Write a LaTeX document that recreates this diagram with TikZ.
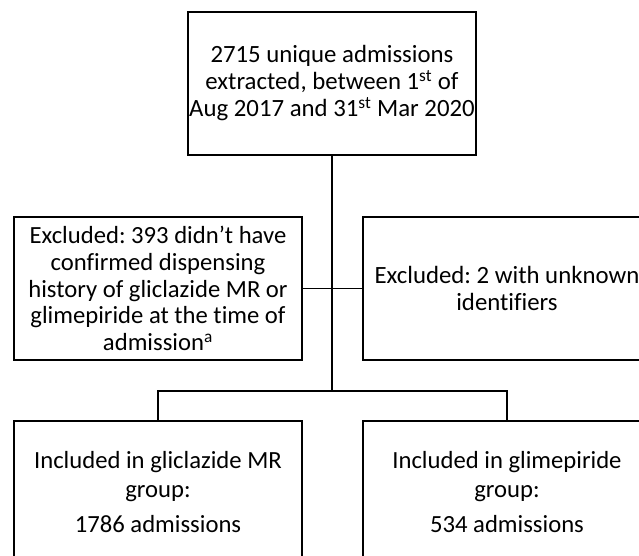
\documentclass[tikz,border=0pt]{standalone}
\usepackage{fontspec}
\setmainfont{Carlito}[Ligatures=NoCommon]
\frenchspacing
\begin{document}
\begin{tikzpicture}[x=0.75pt,y=-0.75pt]
\tikzset{
  box/.style={draw, line width=1.4pt, minimum width=216pt, minimum height=107.25pt,
    inner sep=0pt, align=center, font=\fontsize{18.6}{20.25}\selectfont},
  conn/.style={line width=1.4pt}
}
\useasboundingbox (0,0) rectangle (639,556);
\clip (0,0) rectangle (639,556);
\node[box] (top) at (332,83.5)
  {2715 unique admissions\\extracted, between 1\textsuperscript{st} of\\Aug 2017 and 31\textsuperscript{st} Mar 2020};
\node[box, font=\fontsize{18.5}{20}\selectfont] (exl) at (158,288.5)
  {Excluded: 393 didn’t have\\confirmed dispensing\\history of gliclazide MR or\\glimepiride at the time of\\admission\textsuperscript{a}};
\node[box] (exr) at (507,288.5)
  {Excluded: 2 with unknown\\identifiers};
\node[box, font=\fontsize{18.5}{21.75}\selectfont] (inl) at (158,492.5)
  {Included in gliclazide MR\\group:\\[4.5pt]1786 admissions};
\node[box, font=\fontsize{18.5}{21.75}\selectfont] (inr) at (507,492.5)
  {Included in glimepiride\\group:\\[4.5pt]534 admissions};
\coordinate (split) at (332,391);
\draw[conn] (top.south) -- (split);
\draw[conn] (exl.east) -- (exr.west);
\draw[conn] (split) -| (inl.north);
\draw[conn] (split) -| (inr.north);
\end{tikzpicture}
\end{document}
